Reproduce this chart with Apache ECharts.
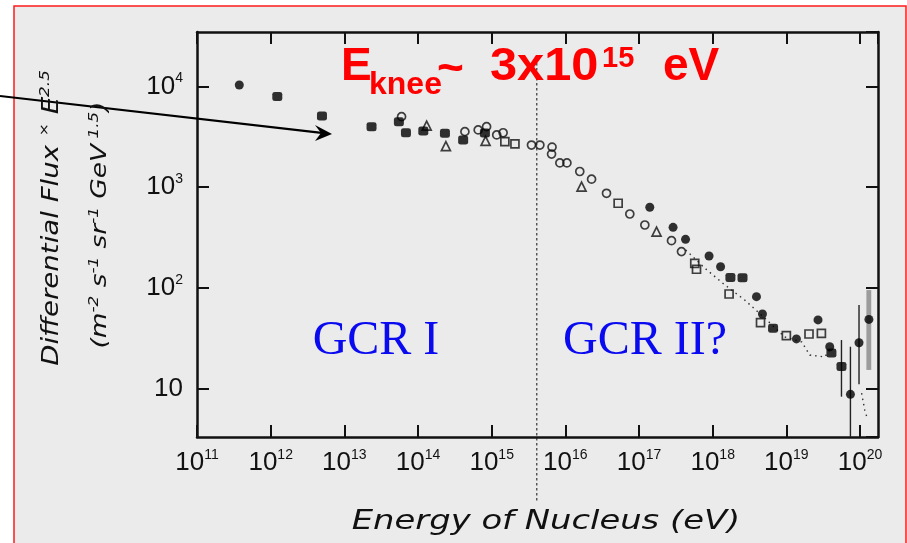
<!DOCTYPE html>
<html><head><meta charset="utf-8">
<script src="https://cdn.jsdelivr.net/npm/echarts@6/dist/echarts.min.js"></script>
<style>html,body{margin:0;padding:0;background:#fff;overflow:hidden}#c{width:907px;height:543px}</style>
</head><body><div id="c"></div>
<script>
// ---------- data ----------
const xTickExponents = [11, 12, 13, 14, 15, 16, 17, 18, 19, 20];
const yTickExponents = [1, 2, 3, 4];
const xRange = [1e11, 1.754e20];
const yRange = [3.3, 34750];

const filledSquares = [
  [1.23e12, 7930], [4.97e12, 5090], [2.34e13, 3990], [5.5e13, 4470], [6.86e13, 3470],
  [1.18e14, 3610], [2.32e14, 3430], [4.1e14, 2940], [8.09e14, 3450],
  [1.74e18, 127], [2.54e18, 126], [6.6e18, 39.6], [4.09e19, 22.5], [5.6e19, 16.5]
];
const filledDots = [
  [3.75e11, 10350], [1.40e17, 631], [2.90e17, 399], [4.28e17, 303], [8.93e17, 207],
  [1.28e18, 162], [3.93e18, 81.7], [4.74e18, 55], [1.37e19, 31.1], [2.69e19, 48],
  [3.88e19, 26], [7.41e19, 8.75], [9.69e19, 28.5], [1.32e20, 48.6]
];
const openCircles = [
  [5.98e13, 5010], [4.33e14, 3560], [6.56e14, 3700], [8.53e14, 3990], [1.17e15, 3300],
  [1.43e15, 3470], [3.47e15, 2620], [4.51e15, 2620], [6.5e15, 2130], [6.6e15, 2500],
  [8.42e15, 1740], [1.05e16, 1740], [1.57e16, 1430], [2.27e16, 1200], [3.62e16, 869],
  [7.5e16, 541], [1.2e17, 421], [2.76e17, 294], [3.77e17, 229]
];
const openTriangles = [
  [1.31e14, 4080], [2.39e14, 2560], [8.26e14, 2880], [1.66e16, 1010], [1.73e17, 361]
];
const openSquares = [
  [1.51e15, 2830], [2.07e15, 2690], [5.21e16, 692], [5.71e17, 175], [6.03e17, 153],
  [1.67e18, 86.9], [4.46e18, 45.1], [1.0e19, 33.5], [2.03e19, 34.8], [2.99e19, 35.3]
];
// [energy, low, high]
const errorBars = [[5.6e19, 8.3, 30.3], [7.41e19, 3.3, 26], [9.69e19, 11.0, 67.6]];
// [energyFrom, energyTo, low, high]
const shadedBand = [[1.22e20, 1.42e20, 15.3, 95]];
const dottedCurveA = [
  [4.3e17, 238], [7.8e17, 157], [1.46e18, 107], [2.72e18, 75.7], [5.09e18, 50.1],
  [9.5e18, 32.5], [1.62e19, 29], [2.08e19, 21.5], [3.32e19, 20.6], [4.13e19, 25.8]
];
const dottedCurveB = [[1.05e20, 9.0], [1.16e20, 6.1], [1.27e20, 4.9]];
const kneeLineEnergy = [4.1e15];

const xAxisTitle = 'Energy of Nucleus (eV)';
const yTitleLine1 = ['Differential Flux', '×', 'E', '2.5'];
const yTitleLine2 = ['(m', '-2', ' s', '-1', ' sr', '-1', ' GeV', ' 1.5', ')'];
const regionLabels = ['GCR I', 'GCR II?'];

// ---------- chart ----------
const INK = '#111';
const chart = echarts.init(document.getElementById('c'), null, {renderer: 'canvas'});

function isDecade(v) { const e = Math.log10(v); return Math.abs(e - Math.round(e)) < 1e-6; }
function xLabel(v) {
  if (!isDecade(v)) return '';
  const e = Math.round(Math.log10(v));
  return xTickExponents.indexOf(e) < 0 ? '' : '{b|10}{s|' + e + '}';
}
function yLabel(v) {
  if (!isDecade(v)) return '';
  const e = Math.round(Math.log10(v));
  if (yTickExponents.indexOf(e) < 0) return '';
  return e === 1 ? '{b|10}' : '{b|10}{s|' + e + '}';
}
const labelRich = {
  b: {fontSize: 26, fontFamily: '"Liberation Sans", Arial, sans-serif', color: INK, lineHeight: 30},
  s: {fontSize: 14, fontFamily: '"Liberation Sans", Arial, sans-serif', color: INK, lineHeight: 16, verticalAlign: 'top'}
};
const axisLine = {show: true, onZero: false, lineStyle: {color: INK, width: 2.5}};
const tick = {show: true, inside: true, length: 12, lineStyle: {color: INK, width: 2}};

function hollow(sym, size) {
  return {symbol: sym, symbolSize: size, itemStyle: {color: 'rgba(0,0,0,0)', borderColor: INK, borderWidth: 1.7}};
}

const option = {
  animation: false,
  backgroundColor: '#fff',
  grid: {left: 197, top: 32, right: 29, bottom: 106, containLabel: false},
  xAxis: [
    {type: 'log', logBase: 10, min: xRange[0], max: xRange[1], splitNumber: 9, position: 'bottom',
     axisLine: axisLine, axisTick: tick, splitLine: {show: false}, minorTick: {show: false},
     axisLabel: {formatter: xLabel, rich: labelRich, margin: 11, showMaxLabel: false, hideOverlap: false}},
    {type: 'log', logBase: 10, min: xRange[0], max: xRange[1], splitNumber: 9, position: 'top',
     axisLine: axisLine, axisTick: tick, splitLine: {show: false}, axisLabel: {show: false}}
  ],
  yAxis: [
    {type: 'log', logBase: 10, min: yRange[0], max: yRange[1], splitNumber: 4, position: 'left',
     axisLine: axisLine, axisTick: tick, splitLine: {show: false},
     axisLabel: {formatter: yLabel, rich: labelRich, margin: 14, showMaxLabel: false, showMinLabel: false}},
    {type: 'log', logBase: 10, min: yRange[0], max: yRange[1], splitNumber: 4, position: 'right',
     axisLine: axisLine, axisTick: tick, splitLine: {show: false}, axisLabel: {show: false}}
  ],
  series: [
    {type: 'custom', name: 'band', data: shadedBand, encode: {x: [0, 1], y: [2, 3]},
     renderItem: function (params, api) {
       const p0 = api.coord([api.value(0), api.value(3)]);
       const p1 = api.coord([api.value(1), api.value(2)]);
       return {type: 'rect', shape: {x: p0[0], y: p0[1], width: p1[0] - p0[0], height: p1[1] - p0[1]},
               style: {fill: 'rgba(60,60,60,0.45)'}};
     }, z: 1},
    {type: 'custom', name: 'errors', data: errorBars, encode: {x: 0, y: [1, 2]},
     renderItem: function (params, api) {
       const a = api.coord([api.value(0), api.value(1)]);
       const b = api.coord([api.value(0), api.value(2)]);
       return {type: 'line', shape: {x1: a[0], y1: a[1], x2: b[0], y2: b[1]},
               style: {stroke: '#222', lineWidth: 1.4}};
     }, z: 2},
    {type: 'line', data: dottedCurveA, showSymbol: false, symbol: 'none',
     lineStyle: {color: '#333', width: 1.4, type: [1.5, 4]}, z: 2},
    {type: 'line', data: dottedCurveB, showSymbol: false, symbol: 'none',
     lineStyle: {color: '#333', width: 1.4, type: [1.5, 4]}, z: 2},
    Object.assign({type: 'scatter', data: openCircles, z: 3}, hollow('circle', 8)),
    Object.assign({type: 'scatter', data: openTriangles, z: 3}, hollow('triangle', 9)),
    Object.assign({type: 'scatter', data: openSquares, z: 3}, hollow('rect', 8)),
    {type: 'scatter', data: filledSquares, symbol: 'roundRect', symbolSize: [10, 9], itemStyle: {color: '#000'}, z: 4},
    {type: 'scatter', data: filledDots, symbol: 'circle', symbolSize: 9, itemStyle: {color: '#000'}, z: 4}
  ]
};
chart.setOption(option);

const kneeX = chart.convertToPixel({xAxisIndex: 0}, kneeLineEnergy[0]);
const titleFont = '"Liberation Sans", Arial, sans-serif';
const oblique = 'italic {S}px "DejaVu Sans", sans-serif';
function fnt(s) { return oblique.replace('{S}', s); }

chart.setOption({
  graphic: [
    {type: 'rect', z: -100, silent: true, shape: {x: 14, y: 6, width: 892, height: 560},
     style: {fill: '#ebebeb', stroke: '#ff1a1a', lineWidth: 1.5}},
    // knee dashed line
    {type: 'line', z: 50, shape: {x1: kneeX, y1: 63, x2: kneeX, y2: 502},
     style: {stroke: '#111', lineWidth: 1, lineDash: [2.5, 2.5]}},
    // arrow
    {type: 'line', z: 50, shape: {x1: 0, y1: 96, x2: 326, y2: 133.3}, style: {stroke: '#000', lineWidth: 2.2}},
    {type: 'polygon', z: 50, shape: {points: [[332, 134], [315, 125], [321, 133], [315, 141]]}, style: {fill: '#000'}},
    // title
    {type: 'text', z: 60, x: 341, y: 67, style: {text: 'E', font: 'bold 46px ' + titleFont, fill: '#ff0000', align: 'left', verticalAlign: 'middle'}},
    {type: 'text', z: 60, x: 369, y: 85, style: {text: 'knee', font: 'bold 32px ' + titleFont, fill: '#ff0000', align: 'left', verticalAlign: 'middle'}},
    {type: 'text', z: 60, x: 437, y: 70, style: {text: '~', font: 'bold 46px ' + titleFont, fill: '#ff0000', align: 'left', verticalAlign: 'middle'}},
    {type: 'text', z: 60, x: 490, y: 67, scaleX: 1.06, style: {text: '3x10', font: 'bold 46px ' + titleFont, fill: '#ff0000', align: 'left', verticalAlign: 'middle'}},
    {type: 'text', z: 60, x: 602, y: 59, style: {text: '15', font: 'bold 29px ' + titleFont, fill: '#ff0000', align: 'left', verticalAlign: 'middle'}},
    {type: 'text', z: 60, x: 663, y: 67, style: {text: 'eV', font: 'bold 46px ' + titleFont, fill: '#ff0000', align: 'left', verticalAlign: 'middle'}},
    // region labels
    {type: 'text', z: 60, x: 376, y: 341, style: {text: regionLabels[0], font: '48px "Liberation Serif", "Times New Roman", serif', fill: '#0a0af0', align: 'center', verticalAlign: 'middle'}},
    {type: 'text', z: 60, x: 645, y: 341, style: {text: regionLabels[1], font: '48px "Liberation Serif", "Times New Roman", serif', fill: '#0a0af0', align: 'center', verticalAlign: 'middle'}},
    // x axis title
    {type: 'text', z: 60, x: 546, y: 522, scaleX: 1.3, style: {text: xAxisTitle, font: fnt(26), fill: INK, align: 'center', verticalAlign: 'middle'}},
    // y axis title (rotated)
    {type: 'text', z: 60, x: 52, y: 218, rotation: Math.PI / 2, scaleX: 1.2,
     style: {text: '{a|' + yTitleLine1[0] + ' }{x|' + yTitleLine1[1] + '}{a| ' + yTitleLine1[2] + '}{s|' + yTitleLine1[3] + '}',
             align: 'center', verticalAlign: 'middle',
             rich: {a: {font: fnt(23), fill: INK, lineHeight: 28}, x: {font: fnt(13), fill: INK, lineHeight: 20, verticalAlign: 'top'},
                    s: {font: fnt(14), fill: INK, lineHeight: 16, verticalAlign: 'top'}}}},
    {type: 'text', z: 60, x: 100, y: 225, rotation: Math.PI / 2, scaleX: 1.2,
     style: {text: '{a|' + yTitleLine2[0] + '}{s|' + yTitleLine2[1] + '}{a|' + yTitleLine2[2] + '}{s|' + yTitleLine2[3] + '}{a|' + yTitleLine2[4] + '}{s|' + yTitleLine2[5] + '}{a|' + yTitleLine2[6] + '}{s|' + yTitleLine2[7] + '}{a|' + yTitleLine2[8] + '}',
             align: 'center', verticalAlign: 'middle',
             rich: {a: {font: fnt(22), fill: INK, lineHeight: 26}, s: {font: fnt(14), fill: INK, lineHeight: 16, verticalAlign: 'top'}}}}
  ]
});
</script></body></html>
